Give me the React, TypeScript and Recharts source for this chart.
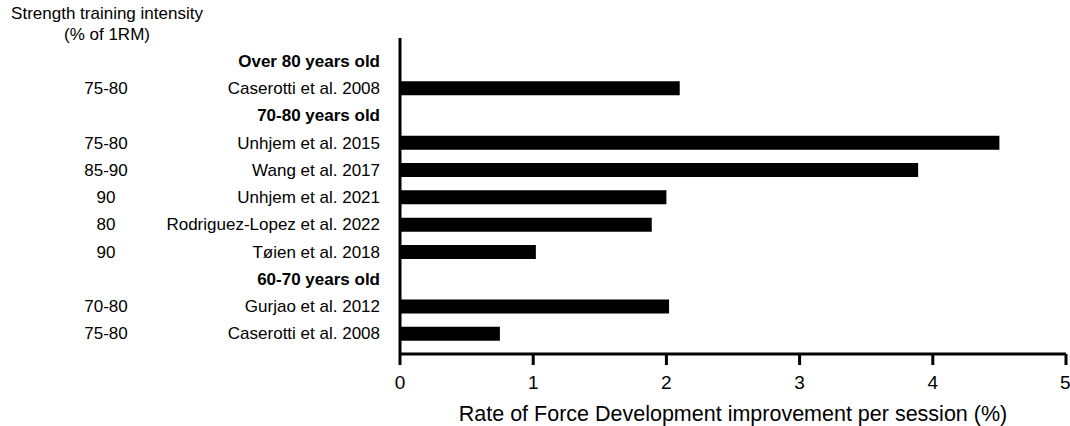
import React from 'react';
import { BarChart, Bar, XAxis, YAxis } from 'recharts';

const rowLabels = [
  'Over 80 years old',
  'Caserotti et al. 2008',
  '70-80 years old',
  'Unhjem et al. 2015',
  'Wang et al. 2017',
  'Unhjem et al. 2021',
  'Rodriguez-Lopez et al. 2022',
  'Tøien et al. 2018',
  '60-70 years old',
  'Gurjao et al. 2012',
  'Caserotti et al. 2008',
];
const isGroupHeader = [true, false, true, false, false, false, false, false, true, false, false];
const intensityLabels = ['', '75-80', '', '75-80', '85-90', '90', '80', '90', '', '70-80', '75-80'];
const rfdValues = [null, 2.1, null, 4.5, 3.89, 2.0, 1.89, 1.02, null, 2.02, 0.75];
const xTicks = [0, 1, 2, 3, 4, 5];

const data = rowLabels.map((label, i) => ({ row: String(i), label, value: rfdValues[i] }));

const FONT = '"Liberation Sans", Arial, sans-serif';

const RowTick = (props: any) => {
  const { x, y, payload } = props;
  const i = Number(payload.value);
  return (
    <g>
      <text
        x={x}
        y={y}
        dy="0.36em"
        textAnchor="end"
        fontSize={17}
        fontFamily={FONT}
        fontWeight={isGroupHeader[i] ? 700 : 400}
        fill="#000"
      >
        {rowLabels[i]}
      </text>
      {intensityLabels[i] ? (
        <text x={106} y={y} dy="0.36em" textAnchor="middle" fontSize={17} fontFamily={FONT} fill="#000">
          {intensityLabels[i]}
        </text>
      ) : null}
    </g>
  );
};

export default function App() {
  return (
    <div style={{ position: 'absolute', left: 0, top: 0, width: 1070, height: 426, fontFamily: FONT, background: '#fff' }}>
      <div
        style={{
          position: 'absolute',
          left: 2,
          top: 3,
          width: 210,
          textAlign: 'center',
          fontSize: 17,
          lineHeight: '21px',
          color: '#000',
          fontFamily: FONT,
        }}
      >
        <div>Strength training intensity</div>
        <div>(% of 1RM)</div>
      </div>
      <BarChart
        width={1070}
        height={426}
        data={data}
        layout="vertical"
        margin={{ top: 38, right: 4, bottom: 0, left: 0 }}
        barCategoryGap={0}
      >
        <XAxis
          type="number"
          domain={[0, 5]}
          ticks={xTicks}
          allowDataOverflow
          height={72}
          axisLine={{ stroke: '#000', strokeWidth: 3 }}
          tickLine={{ stroke: '#000', strokeWidth: 3 }}
          tickSize={11}
          tickMargin={11}
          tick={{ fill: '#000', fontSize: 19, fontFamily: FONT }}
          label={{
            value: 'Rate of Force Development improvement per session (%)',
            position: 'insideBottom',
            offset: 5,
            fill: '#000',
            fontSize: 21.5,
            fontFamily: FONT,
          }}
        />
        <YAxis
          type="category"
          dataKey="row"
          width={400}
          padding={{ top: 9, bottom: 7 }}
          axisLine={{ stroke: '#000', strokeWidth: 3 }}
          tickLine={false}
          tickSize={0}
          tickMargin={20}
          interval={0}
          tick={<RowTick />}
        />
        <Bar dataKey="value" fill="#000" barSize={14} isAnimationActive={false} />
      </BarChart>
    </div>
  );
}
